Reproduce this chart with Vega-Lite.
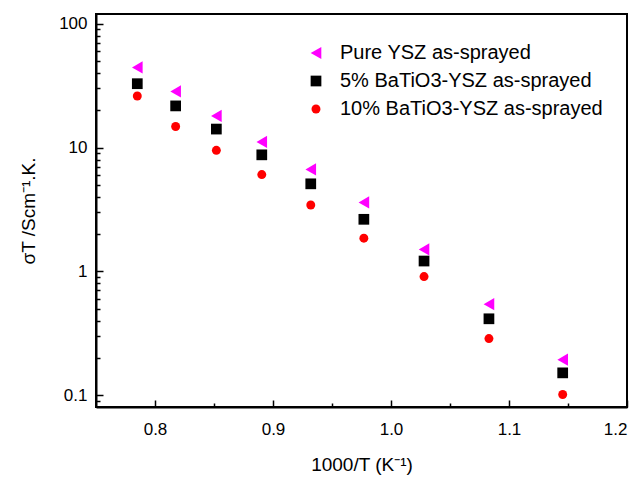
{
  "$schema": "https://vega.github.io/schema/vega-lite/v6.json",
  "width": 531,
  "height": 393,
  "autosize": "none",
  "padding": {"left": 96, "top": 14, "right": 13, "bottom": 71},
  "background": "white",
  "config": {
    "font": "Liberation Sans",
    "view": {"stroke": "black", "strokeWidth": 2},
    "axis": {
      "grid": false,
      "domainColor": "black",
      "domainWidth": 2,
      "tickColor": "black",
      "tickWidth": 1.5,
      "labelColor": "black",
      "titleColor": "black",
      "labelFont": "Liberation Sans",
      "titleFont": "Liberation Sans",
      "labelFontSize": 17,
      "titleFontSize": 19,
      "titleFontWeight": "normal"
    }
  },
  "data": {
    "values": [
      {"series": "Pure YSZ as-sprayed", "x": 0.785, "y": 44.4},
      {"series": "Pure YSZ as-sprayed", "x": 0.8175, "y": 28.4},
      {"series": "Pure YSZ as-sprayed", "x": 0.852, "y": 18.0},
      {"series": "Pure YSZ as-sprayed", "x": 0.8905, "y": 11.1},
      {"series": "Pure YSZ as-sprayed", "x": 0.932, "y": 6.65},
      {"series": "Pure YSZ as-sprayed", "x": 0.977, "y": 3.6},
      {"series": "Pure YSZ as-sprayed", "x": 1.028, "y": 1.5},
      {"series": "Pure YSZ as-sprayed", "x": 1.083, "y": 0.542},
      {"series": "Pure YSZ as-sprayed", "x": 1.1455, "y": 0.193},
      {"series": "5% BaTiO3-YSZ as-sprayed", "x": 0.785, "y": 32.8},
      {"series": "5% BaTiO3-YSZ as-sprayed", "x": 0.8175, "y": 21.7},
      {"series": "5% BaTiO3-YSZ as-sprayed", "x": 0.852, "y": 14.1},
      {"series": "5% BaTiO3-YSZ as-sprayed", "x": 0.8905, "y": 8.73},
      {"series": "5% BaTiO3-YSZ as-sprayed", "x": 0.932, "y": 5.09},
      {"series": "5% BaTiO3-YSZ as-sprayed", "x": 0.977, "y": 2.63},
      {"series": "5% BaTiO3-YSZ as-sprayed", "x": 1.028, "y": 1.21},
      {"series": "5% BaTiO3-YSZ as-sprayed", "x": 1.083, "y": 0.413},
      {"series": "5% BaTiO3-YSZ as-sprayed", "x": 1.1455, "y": 0.151},
      {"series": "10% BaTiO3-YSZ as-sprayed", "x": 0.785, "y": 26.1},
      {"series": "10% BaTiO3-YSZ as-sprayed", "x": 0.8175, "y": 14.8},
      {"series": "10% BaTiO3-YSZ as-sprayed", "x": 0.852, "y": 9.5},
      {"series": "10% BaTiO3-YSZ as-sprayed", "x": 0.8905, "y": 6.05},
      {"series": "10% BaTiO3-YSZ as-sprayed", "x": 0.932, "y": 3.43},
      {"series": "10% BaTiO3-YSZ as-sprayed", "x": 0.977, "y": 1.85},
      {"series": "10% BaTiO3-YSZ as-sprayed", "x": 1.028, "y": 0.906},
      {"series": "10% BaTiO3-YSZ as-sprayed", "x": 1.083, "y": 0.286},
      {"series": "10% BaTiO3-YSZ as-sprayed", "x": 1.1455, "y": 0.101}
    ]
  },
  "layer": [
    {
      "mark": {"type": "point", "filled": true, "opacity": 1, "strokeWidth": 0},
      "encoding": {
        "x": {
          "field": "x", "type": "quantitative",
          "scale": {"domain": [0.75, 1.2], "nice": false, "zero": false},
          "axis": {
            "orient": "bottom",
            "title": "1000/T (K⁻¹)",
            "values": [0.8, 0.9, 1.0, 1.1, 1.2],
            "format": ".1f",
            "tickSize": -7,
            "labelPadding": 21,
            "titlePadding": 18
          }
        },
        "y": {
          "field": "y", "type": "quantitative",
          "scale": {"type": "log", "domain": [0.08, 120], "nice": false},
          "axis": {
            "orient": "left",
            "title": "σT /Scm⁻¹.K.",
            "values": [0.1, 1, 10, 100],
            "format": "~g",
            "tickSize": -7,
            "labelPadding": 16,
            "titlePadding": 20
          }
        },
        "color": {
          "field": "series", "type": "nominal",
          "scale": {
            "domain": ["Pure YSZ as-sprayed", "5% BaTiO3-YSZ as-sprayed", "10% BaTiO3-YSZ as-sprayed"],
            "range": ["#ff00ff", "#000000", "#ff0000"]
          },
          "legend": {
            "title": null,
            "orient": "none",
            "legendX": 210,
            "legendY": 29,
            "labelFontSize": 20,
            "labelFont": "Liberation Sans",
            "labelColor": "black",
            "labelLimit": 400,
            "labelOffset": 14,
            "rowPadding": 8,
            "symbolStrokeWidth": 0
          }
        },
        "shape": {
          "field": "series", "type": "nominal",
          "scale": {
            "domain": ["Pure YSZ as-sprayed", "5% BaTiO3-YSZ as-sprayed", "10% BaTiO3-YSZ as-sprayed"],
            "range": ["triangle-left", "square", "circle"]
          },
          "legend": null
        },
        "size": {
          "field": "series", "type": "nominal",
          "scale": {
            "domain": ["Pure YSZ as-sprayed", "5% BaTiO3-YSZ as-sprayed", "10% BaTiO3-YSZ as-sprayed"],
            "range": [150, 80, 120]
          },
          "legend": null
        }
      }
    },
    {
      "mark": {"type": "point", "opacity": 0},
      "encoding": {
        "x": {
          "field": "x", "type": "quantitative",
          "axis": {
            "orient": "bottom",
            "title": null,
            "labels": false,
            "domain": false,
            "values": [0.85, 0.95, 1.05, 1.15],
            "tickSize": -4
          }
        },
        "y": {
          "field": "y", "type": "quantitative",
          "axis": {
            "orient": "left",
            "title": null,
            "labels": false,
            "domain": false,
            "values": [0.09, 0.2, 0.3, 0.4, 0.5, 0.6, 0.7, 0.8, 0.9, 2, 3, 4, 5, 6, 7, 8, 9, 20, 30, 40, 50, 60, 70, 80, 90],
            "tickSize": -4
          }
        }
      }
    }
  ],
  "resolve": {"axis": {"x": "independent", "y": "independent"}}
}
